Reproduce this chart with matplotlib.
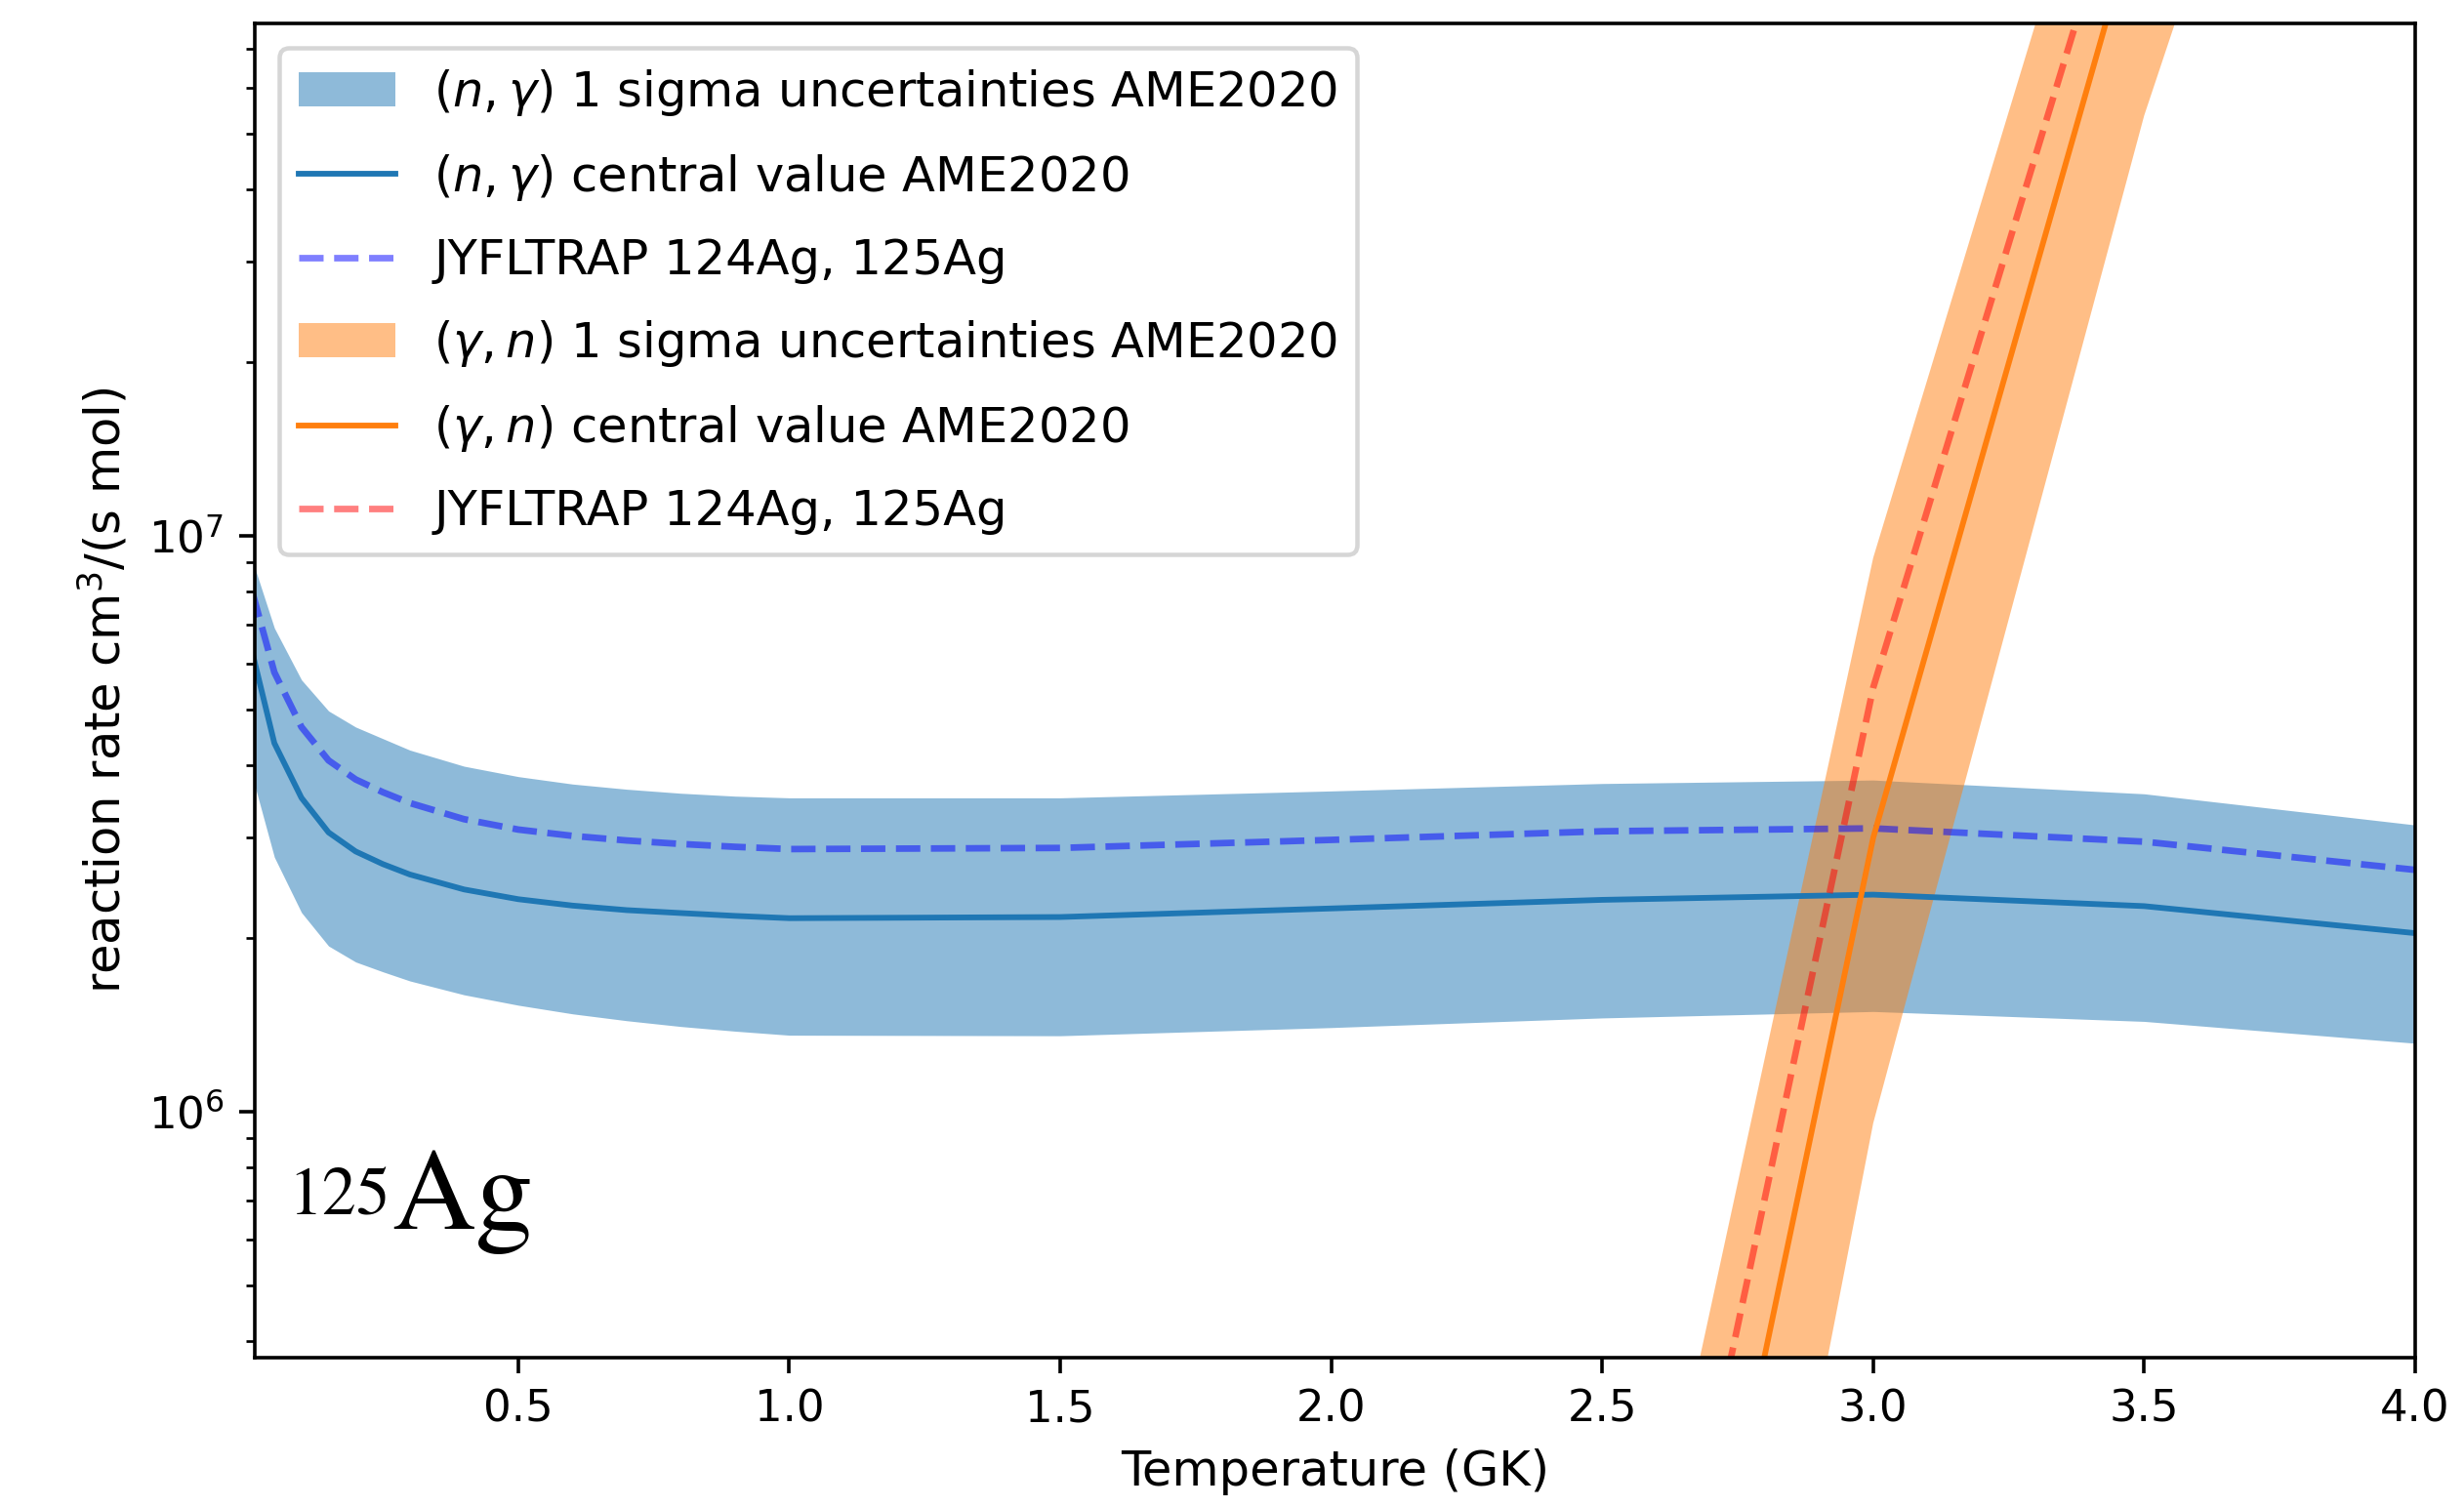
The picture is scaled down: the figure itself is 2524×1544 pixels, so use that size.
import matplotlib
matplotlib.use("Agg")
import matplotlib.pyplot as plt

# Temperature grid (GK) for the (n,gamma) rates
T_ng = [0.01, 0.05, 0.1, 0.15, 0.2, 0.25, 0.3, 0.4, 0.5, 0.6, 0.7, 0.8, 0.9,
        1.0, 1.5, 2.0, 2.5, 3.0, 3.5, 4.0]
ng_central = [6.237e6, 4.365e6, 3.508e6, 3.055e6, 2.831e6, 2.692e6, 2.582e6,
              2.432e6, 2.339e6, 2.280e6, 2.239e6, 2.213e6, 2.188e6, 2.168e6,
              2.178e6, 2.254e6, 2.333e6, 2.382e6, 2.275e6, 2.042e6]
ng_upper = [9.036e6, 6.918e6, 5.623e6, 4.966e6, 4.656e6, 4.446e6, 4.246e6,
            3.981e6, 3.819e6, 3.707e6, 3.631e6, 3.573e6, 3.532e6, 3.508e6,
            3.508e6, 3.606e6, 3.715e6, 3.767e6, 3.565e6, 3.148e6]
ng_lower = [3.802e6, 2.767e6, 2.218e6, 1.940e6, 1.820e6, 1.750e6, 1.687e6,
            1.596e6, 1.531e6, 1.479e6, 1.439e6, 1.406e6, 1.380e6, 1.358e6,
            1.355e6, 1.400e6, 1.455e6, 1.493e6, 1.435e6, 1.315e6]
ng_jyfl = [7.943e6, 5.794e6, 4.656e6, 4.074e6, 3.776e6, 3.589e6, 3.436e6,
           3.221e6, 3.090e6, 3.013e6, 2.958e6, 2.917e6, 2.884e6, 2.858e6,
           2.871e6, 2.965e6, 3.069e6, 3.105e6, 2.944e6, 2.630e6]

# (gamma,n) rates on the high-temperature part of the grid
T_gn = [2.5, 3.0, 3.5, 4.0]
gn_central = [1.70e4, 2.99e6, 1.33e8, 3.2e9]
gn_upper = [6.17e4, 9.16e6, 3.24e8, 7.1e9]
gn_lower = [3.63e3, 9.55e5, 5.37e7, 1.38e9]
gn_jyfl = [3.31e4, 5.45e6, 1.90e8, 4.0e9]

DPI = 324
W, H = 2524, 1544
fig = plt.figure(figsize=(W / DPI, H / DPI), dpi=DPI)
ax = fig.add_axes([261 / W, 1 - 1391 / H, (2474 - 261) / W, (1391 - 24) / H])

ax.fill_between(T_ng, ng_lower, ng_upper, color="C0", alpha=0.5, lw=0,
                label=r"$(n,\gamma)$ 1 sigma uncertainties AME2020")
ax.plot(T_ng, ng_central, color="C0", lw=1.3,
        label=r"$(n,\gamma)$ central value AME2020")
ax.plot(T_ng, ng_jyfl, color="blue", alpha=0.5, ls="--", lw=1.5,
        label="JYFLTRAP 124Ag, 125Ag")

ax.fill_between(T_gn, gn_lower, gn_upper, color="C1", alpha=0.5, lw=0,
                label=r"$(\gamma,n)$ 1 sigma uncertainties AME2020")
ax.plot(T_gn, gn_central, color="C1", lw=1.3,
        label=r"$(\gamma,n)$ central value AME2020")
ax.plot(T_gn, gn_jyfl, color="red", alpha=0.5, ls="--", lw=1.5,
        label="JYFLTRAP 124Ag, 125Ag")

ax.set_yscale("log")
ax.set_xlim(0.0139, 4.0)
ax.set_ylim(3.74e5, 7.76e7)
ax.set_xticks([0.5, 1.0, 1.5, 2.0, 2.5, 3.0, 3.5, 4.0])

ax.set_xlabel("Temperature (GK)", fontsize=11)
ax.set_ylabel(r"reaction rate cm$^3$/(s mol)", fontsize=11)
ax.tick_params(labelsize=10)

ax.legend(loc="upper left", fontsize=11, labelspacing=0.71)

# Isotope tag: mass number as a small raised label before the element symbol
ax.text(0.0155, 0.1075, "125", transform=ax.transAxes, va="baseline",
        fontsize=15.5, family="STIXGeneral")
ax.text(0.0635, 0.0966, "Ag", transform=ax.transAxes, va="baseline",
        fontsize=26.4, family="STIXGeneral")

fig.savefig("out.png", dpi=DPI)
